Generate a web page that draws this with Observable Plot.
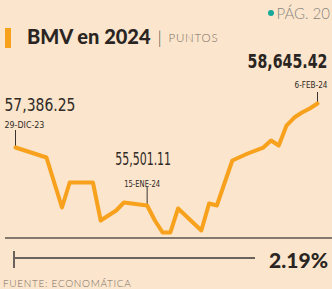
<!DOCTYPE html>
<html>
<head>
<meta charset="utf-8">
<script src="https://cdn.jsdelivr.net/npm/d3@7"></script>
<script src="https://cdn.jsdelivr.net/npm/@observablehq/plot@0.6"></script>
<style>
  html, body { margin: 0; padding: 0; background: #fbe5cc; }
  #wrap { position: relative; width: 332px; height: 289px; overflow: hidden; background: #fbe5cc; }
  #chart { position: absolute; left: 0; top: 0; }
  .abs { position: absolute; white-space: nowrap; }
  .title { left: 27px; top: 24px; font: 900 20px Lato, sans-serif; color: #2a2522; }
  .title .unit { font: 300 11.5px Lato, sans-serif; color: #7a6f66; letter-spacing: 0.8px; vertical-align: 2px; }
  .title .sep { font: 300 18px Lato, sans-serif; color: #555; margin: 0 2px; }
  .bar { left: 5px; top: 28px; width: 6px; height: 20px; background: #f7a11c; }
  .pag { right: 2px; top: 4px; font: 300 15px Lato, sans-serif; color: #8a8580; }
  .pag .dot { display: inline-block; width: 6px; height: 6px; border-radius: 3px; background: #16a89a; margin-right: 2px; vertical-align: 3px; }
  .src { left: 3px; top: 277px; font: 300 10px Lato, sans-serif; color: #7a6f66; letter-spacing: 0.7px; }
  .pct { right: 4px; top: 247px; font: 900 21px Lato, sans-serif; color: #2a2522; }
  .hline { left: 13px; top: 257px; width: 242px; height: 1.5px; background: #6a625c; }
  .vtick { left: 13px; top: 251px; width: 1.5px; height: 17px; background: #6a625c; }
</style>
</head>
<body>
<div id="wrap">
  <div id="chart"></div>
  <div class="abs bar"></div>
  <div class="abs title">BMV en 2024<span class="sep"> |</span> <span class="unit">PUNTOS</span></div>
  <div class="abs pag"><span class="dot"></span>PÁG. 20</div>
  <div class="abs hline"></div>
  <div class="abs vtick"></div>
  <div class="abs pct">2.19%</div>
  <div class="abs src">FUENTE: ECONOMÁTICA</div>
</div>
<script>
// Calendar-day offset from 29-DIC-23 and index level (points)
const days = [0, 4, 6, 7, 10, 11, 13, 14, 17, 18, 19, 20, 21, 24, 25, 26, 28, 30, 32, 33, 34, 35, 36, 37, 38, 39];
const values = [57386.25, 57100, 55670, 56385, 56385, 55298, 55584, 55813, 55727, 55298, 54955, 54955, 55642, 55013, 55785, 55727, 57015, 57215, 57386, 57586, 57443, 58015, 58244, 58387, 58502, 58645.42];

// annotations
const noteDays = [0, 17, 39];
const noteValues = ["57,386.25", "55,501.11", "58,645.42"];
const noteDates = ["29-DIC-23", "15-ENE-24", "6-FEB-24"];

const data = days.map((d, i) => ({day: d, value: values[i]}));
const notes = noteDays.map((d, i) => ({day: d, value: values[days.indexOf(d)], label: noteValues[i], date: noteDates[i]}));

const F = "DejaVu Sans Condensed, DejaVu Sans, sans-serif";
const chart = Plot.plot({
  width: 332,
  height: 289,
  margin: 0,
  style: {background: "transparent", overflow: "visible"},
  x: {domain: [0, 39], range: [15, 317], axis: null},
  y: {domain: [54800, 58800], range: [237.4, 97.6], axis: null},
  marks: [
    Plot.ruleY([54800], {stroke: "#5d5550", strokeWidth: 1.5, insetLeft: 5}),
    // leader ticks
    Plot.ruleX([notes[0]], {x: "day", y1: "value", y2: 57386.25 + 17 * 28.6, stroke: "#3a332e", strokeWidth: 1}),
    Plot.ruleX([notes[1]], {x: "day", y1: "value", y2: 55727 + 18 * 28.6, stroke: "#3a332e", strokeWidth: 1}),
    Plot.ruleX([notes[2]], {x: "day", y1: "value", y2: 58645.42 + 11 * 28.6, stroke: "#3a332e", strokeWidth: 1}),
    Plot.line(data, {x: "day", y: "value", stroke: "#f7a11c", strokeWidth: 4, strokeLinejoin: "round", strokeLinecap: "round"}),
    // value labels
    Plot.text([notes[0]], {x: "day", y: "value", text: "label", dx: -11, dy: -42, textAnchor: "start", fontFamily: F, fontSize: 18, fill: "#2f2a26"}),
    Plot.text([notes[0]], {x: "day", y: "value", text: "date", dx: -11, dy: -23, textAnchor: "start", fontFamily: F, fontSize: 9.5, fill: "#2f2a26"}),
    Plot.text([notes[1]], {x: "day", y: "value", text: "label", dx: -4, dy: -46, textAnchor: "middle", fontFamily: F, fontSize: 18, fill: "#2f2a26"}),
    Plot.text([notes[1]], {x: "day", y: "value", text: "date", dx: -5, dy: -22, textAnchor: "middle", fontFamily: F, fontSize: 9.5, fill: "#2f2a26"}),
    Plot.text([notes[2]], {x: "day", y: "value", text: "label", dx: 10, dy: -42, textAnchor: "end", fontFamily: F, fontWeight: "bold", fontSize: 20, fill: "#2a2522"}),
    Plot.text([notes[2]], {x: "day", y: "value", text: "date", dx: 10, dy: -19, textAnchor: "end", fontFamily: F, fontSize: 9.5, fill: "#2f2a26"})
  ]
});
document.getElementById("chart").appendChild(chart);
// condensed look of the newspaper labels: horizontal scale about each text's anchor
const labelWidths = {"57,386.25": 71, "55,501.11": 56, "58,645.42": 80, "29-DIC-23": 40, "15-ENE-24": 36, "6-FEB-24": 33};
d3.select(chart).selectAll("text").each(function () {
  const w = labelWidths[this.textContent];
  if (!w) return;
  const len = this.getComputedTextLength();
  if (!len) return;
  const s = Math.min(1, w / len);
  const t = this.getAttribute("transform");
  if (t) {
    this.setAttribute("transform", t + ` scale(${s},1)`);
  } else {
    const x = +this.getAttribute("x") || 0;
    this.setAttribute("transform", `translate(${x},0) scale(${s},1) translate(${-x},0)`);
  }
});
</script>
</body>
</html>
